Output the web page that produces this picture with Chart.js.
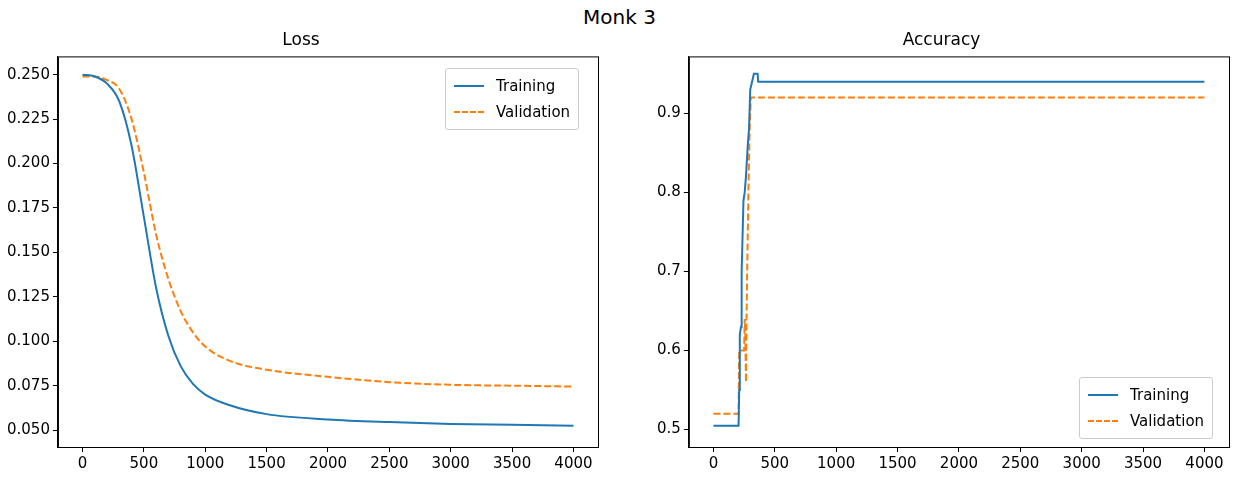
<!DOCTYPE html>
<html>
<head>
<meta charset="UTF-8">
<script src="https://cdn.jsdelivr.net/npm/chart.js"></script>
<style>
    body { margin: 0; background: white; font-family: "DejaVu Sans", sans-serif; }
    #title { position: absolute; top: 5px; left: 0; width: 1239px; text-align: center; font-size: 20px; color: #000; }
    .box { position: absolute; top: 30px; height: 452px; }
    .legend { position: absolute; border: 1px solid #ccc; border-radius: 3px; background: rgba(255,255,255,0.85); padding: 4px 8px; font-size: 15px; line-height: 26px; }
    .legend div { display: flex; align-items: center; }
    .legend span.l { display: inline-block; width: 30px; margin-right: 12px; border-top: 2px solid; }
</style>
</head>
<body>
<div id="title">Monk 3</div>
<div class="box" style="left:0; width:610px;"><canvas id="lossChart"></canvas></div>
<div class="box" style="left:634px; width:605px;"><canvas id="accChart"></canvas></div>
<div class="legend" style="left:445px; top:68px;">
    <div><span class="l" style="border-color:#1f77b4"></span>Training</div>
    <div><span class="l" style="border-color:#ff7f0e; border-top-style:dashed"></span>Validation</div>
</div>
<div class="legend" style="left:1079px; top:377px;">
    <div><span class="l" style="border-color:#1f77b4"></span>Training</div>
    <div><span class="l" style="border-color:#ff7f0e; border-top-style:dashed"></span>Validation</div>
</div>
<script>
// Loss curves
var lossX = [0, 100, 200, 300, 400, 500, 600, 700, 800, 900, 1000, 1200, 1500, 2000, 2500, 3000, 3500, 4000];
var lossTrain = [0.250, 0.249, 0.245, 0.235, 0.21, 0.17, 0.13, 0.103, 0.086, 0.076, 0.070, 0.064, 0.059, 0.056, 0.0545, 0.0535, 0.053, 0.0525];
var lossVal = [0.249, 0.249, 0.247, 0.242, 0.225, 0.195, 0.16, 0.135, 0.117, 0.105, 0.097, 0.089, 0.084, 0.080, 0.077, 0.0755, 0.075, 0.0745];

// Accuracy curves
var accTrainX = [0, 205, 210, 215, 225, 230, 240, 245, 255, 265, 280, 290, 300, 315, 330, 360, 365, 4000];
var accTrain = [0.505, 0.505, 0.55, 0.62, 0.63, 0.70, 0.76, 0.79, 0.80, 0.82, 0.86, 0.88, 0.93, 0.94, 0.95, 0.95, 0.94, 0.94];
var accValX = [0, 205, 210, 250, 255, 260, 265, 268, 275, 285, 295, 305, 4000];
var accVal = [0.52, 0.52, 0.60, 0.60, 0.64, 0.62, 0.56, 0.62, 0.70, 0.80, 0.88, 0.92, 0.92];

var xTicks = [0, 500, 1000, 1500, 2000, 2500, 3000, 3500, 4000];

var blue = '#1f77b4', orange = '#ff7f0e';
Chart.defaults.font.family = 'DejaVu Sans';
Chart.defaults.font.size = 15;
Chart.defaults.color = '#000';

function pts(xs, ys) {
    return xs.map(function(x, i) { return {x: x, y: ys[i]}; });
}

// frame around plot area
var framePlugin = {
    id: 'frame',
    afterDraw: function(chart) {
        var a = chart.chartArea, c = chart.ctx;
        c.save();
        c.strokeStyle = '#000';
        c.lineWidth = 1;
        c.strokeRect(a.left + 0.5, a.top + 0.5, a.right - a.left, a.bottom - a.top);
        c.restore();
    }
};

function makeChart(id, title, trainData, valData, ymin, ymax, yTicks, digits, smooth, pad) {
    new Chart(document.getElementById(id), {
        type: 'line',
        data: {
            datasets: [
                { label: 'Training', data: trainData, borderColor: blue, borderWidth: 2, pointRadius: 0, cubicInterpolationMode: smooth ? 'monotone' : 'default', tension: 0 },
                { label: 'Validation', data: valData, borderColor: orange, borderWidth: 2, borderDash: [7, 3], pointRadius: 0, cubicInterpolationMode: smooth ? 'monotone' : 'default', tension: 0 }
            ]
        },
        options: {
            animation: false,
            maintainAspectRatio: false,
            layout: { padding: pad },
            plugins: {
                title: { display: true, text: title, font: { size: 17, weight: 'normal' }, padding: { top: 0, bottom: 6 } },
                legend: { display: false }
            },
            scales: {
                x: {
                    type: 'linear', min: -200, max: 4200,
                    grid: { display: true, drawOnChartArea: false, tickLength: 5, color: '#000' },
                    border: { color: '#000' },
                    afterBuildTicks: function(ax) { ax.ticks = xTicks.map(function(v) { return {value: v}; }); },
                    ticks: { autoSkip: false, maxRotation: 0, callback: function(v) { return v; } }
                },
                y: {
                    min: ymin, max: ymax,
                    grid: { display: true, drawOnChartArea: false, tickLength: 5, color: '#000' },
                    border: { color: '#000' },
                    afterBuildTicks: function(ax) { ax.ticks = yTicks.map(function(v) { return {value: v}; }); },
                    ticks: { autoSkip: false, callback: function(v) { return v.toFixed(digits); } }
                }
            }
        },
        plugins: [framePlugin]
    });
}

makeChart('lossChart', 'Loss', pts(lossX, lossTrain), pts(lossX, lossVal), 0.0405, 0.2603,
    [0.05, 0.075, 0.1, 0.125, 0.15, 0.175, 0.2, 0.225, 0.25], 3, true, { left: 4, right: 12, bottom: 6 });
makeChart('accChart', 'Accuracy', pts(accTrainX, accTrain), pts(accValX, accVal), 0.478, 0.972,
    [0.5, 0.6, 0.7, 0.8, 0.9], 1, false, { left: 20, right: 10, bottom: 6 });
</script>
</body>
</html>
